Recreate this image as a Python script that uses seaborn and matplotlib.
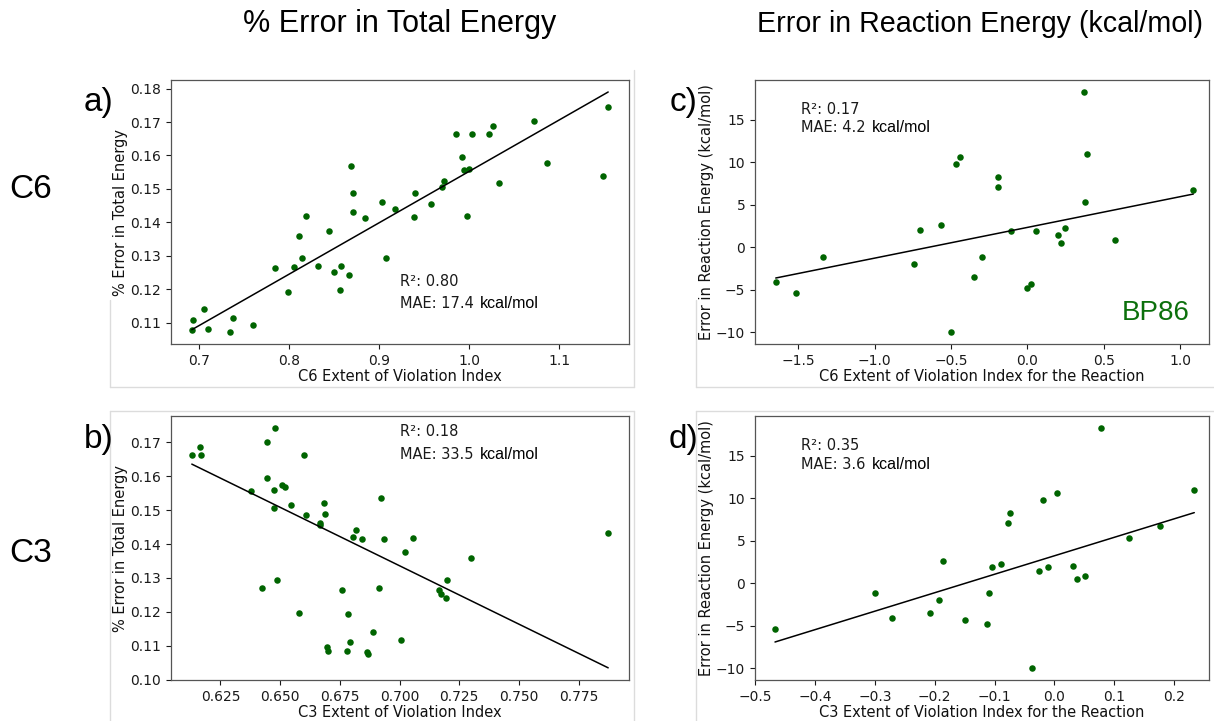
import numpy as np
import matplotlib
matplotlib.use("Agg")
import matplotlib.pyplot as plt
from matplotlib.lines import Line2D
import seaborn as sns

# ---------------- data ----------------
# a) C6 extent of violation index vs % error in total energy
c6_index = [0.6915, 0.6926, 0.7052, 0.7100, 0.7344, 0.7378, 0.7596, 0.7837, 0.7985, 0.8048,
            0.8104, 0.8144, 0.8185, 0.8315, 0.8444, 0.8496, 0.8556, 0.8570, 0.8659, 0.8681,
            0.8704, 0.8704, 0.8837, 0.9033, 0.9074, 0.9174, 0.9393, 0.9389, 0.9567, 0.9696,
            0.9722, 0.9852, 0.9922, 0.9944, 1.0000, 0.9974, 1.0030, 1.0220, 1.0260, 1.0330,
            1.0722, 1.0863, 1.1478, 1.1541]
c6_pct_err = [0.1078, 0.1109, 0.1140, 0.1081, 0.1072, 0.1113, 0.1094, 0.1263, 0.1192, 0.1265,
              0.1358, 0.1292, 0.1420, 0.1268, 0.1374, 0.1252, 0.1198, 0.1268, 0.1241, 0.1568,
              0.1488, 0.1432, 0.1413, 0.1461, 0.1292, 0.1441, 0.1487, 0.1416, 0.1455, 0.1506,
              0.1523, 0.1663, 0.1596, 0.1557, 0.1561, 0.1420, 0.1663, 0.1663, 0.1689, 0.1517,
              0.1702, 0.1576, 0.1538, 0.1746]

# b) C3 extent of violation index vs % error in total energy
c3_index = [0.6130, 0.6165, 0.6168, 0.6376, 0.6426, 0.6443, 0.6447, 0.6475, 0.6473, 0.6480,
            0.6486, 0.6506, 0.6521, 0.6546, 0.6580, 0.6601, 0.6609, 0.6665, 0.6668, 0.6684,
            0.6687, 0.6697, 0.6700, 0.6758, 0.6778, 0.6783, 0.6792, 0.6806, 0.6817, 0.6844,
            0.6863, 0.6870, 0.6922, 0.6934, 0.6913, 0.6891, 0.7008, 0.7022, 0.7057, 0.7166,
            0.7173, 0.7193, 0.7200, 0.7300, 0.7874]
c3_pct_err = [0.1663, 0.1686, 0.1663, 0.1555, 0.1269, 0.1594, 0.1699, 0.1560, 0.1506, 0.1742,
              0.1293, 0.1574, 0.1567, 0.1516, 0.1197, 0.1662, 0.1486, 0.1462, 0.1455, 0.1522,
              0.1487, 0.1098, 0.1084, 0.1265, 0.1085, 0.1193, 0.1112, 0.1421, 0.1441, 0.1414,
              0.1081, 0.1075, 0.1536, 0.1416, 0.1269, 0.1141, 0.1116, 0.1375, 0.1419, 0.1266,
              0.1254, 0.1242, 0.1293, 0.1359, 0.1433]

# c), d) reaction energy errors (kcal/mol) with C6 / C3 violation index for the reaction
rxn_err = [-10.0, -5.43, -4.77, -4.34, -4.06, -3.50, -1.95, -1.20, -1.12, 0.53,
           0.78, 1.47, 1.85, 1.87, 2.04, 2.21, 2.63, 5.28, 6.67, 7.10,
           8.22, 9.82, 10.65, 10.97, 18.27]
c6_rxn_index = [-0.503, -1.516, -0.002, 0.024, -1.649, -0.351, -0.745, -1.338, -0.296, 0.218,
                0.571, 0.203, -0.109, 0.054, -0.706, 0.248, -0.564, 0.379, 1.087, -0.194,
                -0.192, -0.469, -0.444, 0.388, 0.373]
c3_rxn_index = [-0.0374, -0.4666, -0.1132, -0.1488, -0.2709, -0.2080, -0.1924, -0.3000, -0.1087, 0.0384,
                0.0507, -0.0263, -0.1043, -0.0112, 0.0306, -0.0893, -0.1863, 0.1237, 0.1766, -0.0776,
                -0.0747, -0.0184, 0.0038, 0.2334, 0.0769]

# fitted trend lines (slope, intercept) as shown in each panel
fit_slope = [0.1537, -0.344, 3.615, 21.77]
fit_intercept = [0.0016, 0.3744, 2.32, 3.22]

stats_r2 = ["R\u00b2: 0.80", "R\u00b2: 0.18", "R\u00b2: 0.17", "R\u00b2: 0.35"]
stats_mae = ["MAE: 17.4", "MAE: 33.5", "MAE: 4.2", "MAE: 3.6"]

# ---------------- figure ----------------
W, H = 1214, 721
sns.set_style("ticks")
plt.rcParams['font.family'] = ['DejaVu Sans']
plt.rcParams['text.color'] = 'black'
plt.rcParams['axes.labelcolor'] = '#111111'
fig = plt.figure(figsize=(W / 100, H / 100), dpi=100)
fig.patch.set_facecolor("white")

ARIAL = ['Liberation Sans', 'DejaVu Sans']
DOT = '#006400'


def fx(x):
    return x / W


def fy(y):
    return 1 - y / H


def px_axes(l, t, r, b):
    return fig.add_axes([l / W, 1 - b / H, (r - l) / W, (b - t) / H])


def panel(ax, x, y, k, xlabel, ylabel):
    x = np.asarray(x)
    y = np.asarray(y)
    sns.scatterplot(x=x, y=y, ax=ax, s=22, color=DOT, linewidth=0, alpha=1)
    xs = np.array([x.min(), x.max()])
    sns.lineplot(x=xs, y=fit_slope[k] * xs + fit_intercept[k], ax=ax, color='black', lw=1.1)
    ax.set_xlabel(xlabel, fontsize=10.5, labelpad=1.0)
    ax.set_ylabel(ylabel, fontsize=10.5, labelpad=1.5)
    ax.tick_params(labelsize=10, length=3.5, width=0.8, colors='#1a1a1a')
    for s in ax.spines.values():
        s.set_visible(True)
        s.set_color('#555555')
        s.set_linewidth(0.9)


# light frames of the pasted sub-figures
frame_col = '#dcdcdc'
for (x0, y0, x1, y1) in [(110, 387, 634, 387), (634, 70, 634, 387), (110, 300, 110, 387),
                         (696, 387, 1214, 387), (696, 300, 696, 387),
                         (110, 411, 634, 411), (634, 411, 634, 721), (110, 411, 110, 721),
                         (696, 411, 1214, 411), (696, 411, 696, 721)]:
    fig.add_artist(Line2D([fx(x0), fx(x1)], [fy(y0), fy(y1)], color=frame_col, lw=1.0))

ax_a = px_axes(171, 80, 629, 344)
panel(ax_a, c6_index, c6_pct_err, 0, "C6 Extent of Violation Index", "% Error in Total Energy")

ax_b = px_axes(171, 416, 629, 680)
panel(ax_b, c3_index, c3_pct_err, 1, "C3 Extent of Violation Index", "% Error in Total Energy")
ax_b.set_ylim(0.09995, 0.1777)

ax_c = px_axes(755, 80, 1209, 344)
panel(ax_c, c6_rxn_index, rxn_err, 2, "C6 Extent of Violation Index for the Reaction",
      "Error in Reaction Energy (kcal/mol)")
ax_c.set_xlim(-1.785, 1.19)

ax_d = px_axes(755, 416, 1209, 680)
panel(ax_d, c3_rxn_index, rxn_err, 3, "C3 Extent of Violation Index for the Reaction",
      "Error in Reaction Energy (kcal/mol)")
ax_d.set_xlim(-0.5, 0.258)

# statistics annotations
stat_pos = [(400, 281, 304, 480), (400, 432, 454, 480), (801, 110, 128, 872), (801, 446, 464, 872)]
for r2, mae, (x0, yr, ym, xk) in zip(stats_r2, stats_mae, stat_pos):
    fig.text(fx(x0), fy(yr), r2, fontsize=10.5, va='center', ha='left', color='#1a1a1a')
    fig.text(fx(x0), fy(ym), mae, fontsize=10.5, va='center', ha='left', color='#1a1a1a')
    fig.text(fx(xk), fy(ym), "kcal/mol", fontsize=11.5, va='center', ha='left',
             family=ARIAL, color='black')

# column titles, row labels, panel letters
fig.text(fx(400), fy(24), "% Error in Total Energy", fontsize=22, ha='center', va='center',
         family=ARIAL)
fig.text(fx(980), fy(24), "Error in Reaction Energy (kcal/mol)", fontsize=20.6, ha='center',
         va='center', family=ARIAL)
fig.text(fx(31), fy(190), "C6", fontsize=24, ha='center', va='center', family=ARIAL)
fig.text(fx(31), fy(553), "C3", fontsize=24, ha='center', va='center', family=ARIAL)
for lab, (x, y) in zip(["a)", "b)", "c)", "d)"], [(99, 103), (99, 440), (684, 103), (684, 440)]):
    fig.text(fx(x), fy(y), lab, fontsize=24, ha='center', va='center', family=ARIAL)

fig.text(fx(1156), fy(313), "BP86", fontsize=20, ha='center', va='center', family=ARIAL,
         color='#0c700c')

fig.savefig("out.png", dpi=100, facecolor='white')
